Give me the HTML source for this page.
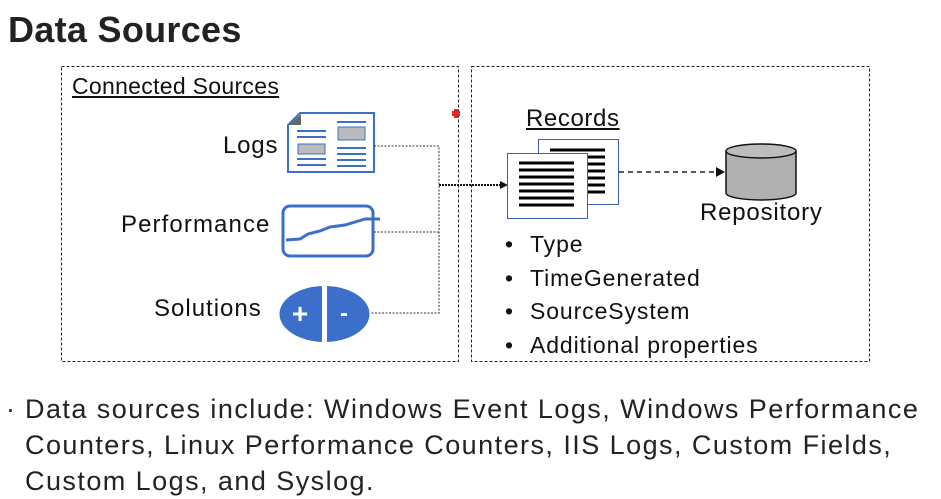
<!DOCTYPE html>
<html><head><style>
body{margin:0;width:941px;height:494px;background:#fff;overflow:hidden;font-family:"Liberation Sans",sans-serif;position:relative}
.t{position:absolute;white-space:nowrap;color:#111}
</style></head><body>
<div class="t" style="left:8px;top:9px;font-size:36px;font-weight:bold;letter-spacing:0.3px;color:#222">Data Sources</div>
<svg style="position:absolute;left:0;top:0" width="941" height="494">
<rect x="61.5" y="66.5" width="397" height="295" fill="none" stroke="#222" stroke-dasharray="3,2"/>
<rect x="471.5" y="66.5" width="398" height="295" fill="none" stroke="#222" stroke-dasharray="3,2"/>
<rect x="452" y="111" width="8" height="5" fill="#e22"/><rect x="454" y="109" width="4" height="9" fill="#e22"/>
<polygon points="288,125 300,113 374,113 374,172 288,172" fill="#fff" stroke="#3b6fc9" stroke-width="2"/>
<polygon points="289,125 301,114 301,125" fill="#666"/>
<g stroke="#3b6fc9" stroke-width="2">
<line x1="297" y1="131" x2="326" y2="131"/><line x1="297" y1="137" x2="326" y2="137"/><line x1="297" y1="159" x2="326" y2="159"/><line x1="297" y1="165" x2="326" y2="165"/>
<line x1="337" y1="122" x2="366" y2="122"/><line x1="337" y1="148" x2="366" y2="148"/><line x1="337" y1="154" x2="366" y2="154"/><line x1="337" y1="160" x2="366" y2="160"/><line x1="337" y1="166" x2="366" y2="166"/>
</g>
<rect x="298" y="144" width="27" height="10" fill="#bbb" stroke="#3b6fc9"/>
<rect x="338" y="127" width="27" height="13" fill="#bbb" stroke="#3b6fc9"/>
<rect x="283" y="206" width="90" height="50" rx="7" fill="#fff" stroke="#3b6fc9" stroke-width="3"/>
<path d="M286,240 L300,239 L308,234 L320,231 L330,227 L345,225 L365,219 L380,219" fill="none" stroke="#3b6fc9" stroke-width="3"/>
<ellipse cx="324.5" cy="314" rx="45" ry="28" fill="#3b6fc9"/>
<rect x="322" y="284" width="5" height="60" fill="#fff"/>
<text x="300" y="323" font-size="28" fill="#fff" text-anchor="middle" font-weight="bold">+</text>
<text x="344" y="321" font-size="24" fill="#fff" text-anchor="middle" font-weight="bold">-</text>
<g fill="none" stroke="#333" stroke-dasharray="2,1.5">
<path d="M374,146 H439 V313 H370"/><path d="M374,232 H439"/>
</g>
<line x1="439" y1="185" x2="500" y2="185" stroke="#111" stroke-width="2" stroke-dasharray="2,1"/>
<polygon points="500,181 508,185 500,189" fill="#111"/>
<rect x="538.5" y="139.5" width="80" height="65" fill="#fff" stroke="#3b5fb0"/>
<g stroke="#000" stroke-width="3"><line x1="550" y1="150" x2="605" y2="150"/><line x1="550" y1="157" x2="605" y2="157"/><line x1="550" y1="164" x2="605" y2="164"/><line x1="550" y1="171" x2="605" y2="171"/><line x1="550" y1="178" x2="605" y2="178"/><line x1="550" y1="185" x2="605" y2="185"/><line x1="550" y1="192" x2="605" y2="192"/></g>
<rect x="507.5" y="153.5" width="80" height="65" fill="#fff" stroke="#3b5fb0"/>
<g stroke="#000" stroke-width="3"><line x1="519" y1="163" x2="574" y2="163"/><line x1="519" y1="170" x2="574" y2="170"/><line x1="519" y1="177" x2="574" y2="177"/><line x1="519" y1="184" x2="574" y2="184"/><line x1="519" y1="191" x2="574" y2="191"/><line x1="519" y1="198" x2="574" y2="198"/><line x1="519" y1="205" x2="574" y2="205"/></g>
<line x1="619" y1="172" x2="717" y2="172" stroke="#222" stroke-width="1.5" stroke-dasharray="5,4"/>
<polygon points="716,167 725,172 716,177" fill="#111"/>
<path d="M726,151 V193 A35,7 0 0 0 796,193 V151" fill="#b0b0b0" stroke="#111" stroke-width="1.5"/>
<ellipse cx="761" cy="151" rx="35" ry="7" fill="#bdbdbd" stroke="#111" stroke-width="1.5"/>
</svg>
<div class="t" style="left:72px;top:73px;font-size:23px;letter-spacing:0.3px;text-decoration:underline">Connected Sources</div>
<div class="t" style="left:223px;top:132px;font-size:24px;letter-spacing:0.8px">Logs</div>
<div class="t" style="left:121px;top:211px;font-size:24px;letter-spacing:1.1px">Performance</div>
<div class="t" style="left:154px;top:295px;font-size:24px;letter-spacing:1px">Solutions</div>
<div class="t" style="left:526px;top:105px;font-size:24px;letter-spacing:0.6px;text-decoration:underline">Records</div>
<div class="t" style="left:700px;top:199px;font-size:24px;letter-spacing:0.8px">Repository</div>
<div class="t" style="left:505px;top:228px;font-size:23px;line-height:33.5px">•<br>•<br>•<br>•</div>
<div class="t" style="left:530px;top:228px;font-size:23px;line-height:33.5px;letter-spacing:0.9px">Type<br>TimeGenerated<br>SourceSystem<br>Additional properties</div>
<div class="t" style="left:6px;top:391px;font-size:27px;line-height:36px;color:#222">·</div>
<div class="t" style="left:25px;top:391px;font-size:27px;line-height:36px;color:#222;letter-spacing:1.45px">Data sources include: Windows Event Logs, Windows Performance<br>Counters, Linux Performance Counters, IIS Logs, Custom Fields,<br>Custom Logs, and Syslog.</div>
</body></html>
